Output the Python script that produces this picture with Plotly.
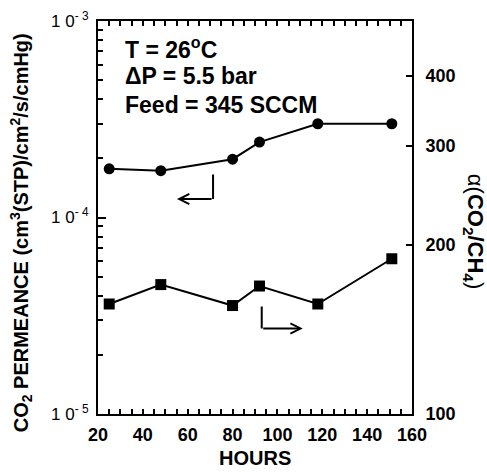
import math
import plotly.graph_objects as go

# Time on stream (hours)
hours_perm = [25, 48, 80, 92, 118, 151]
# CO2 permeance, cm3(STP)/cm2/s/cmHg
permeance = [1.77e-4, 1.73e-4, 1.98e-4, 2.42e-4, 3.0e-4, 3.0e-4]

hours_sel = [25, 48, 80, 92, 118, 151]
# CO2/CH4 separation factor
selectivity = [157, 170, 156, 169, 157, 189]

x_ticks = [20, 40, 60, 80, 100, 120, 140, 160]
y_ticks = [1e-5, 1e-4, 1e-3]
y_tick_text = ["1 0<sup>- 5</sup>", "1 0<sup>- 4</sup>", "1 0<sup>- 3</sup>"]
y2_ticks = [100, 200, 300, 400]

FONT = "Liberation Sans, Arial, Helvetica, sans-serif"
BLACK = "black"

y_minor = [m * 10.0 ** e for e in (-5, -4) for m in range(2, 10)]

fig = go.Figure()
fig.add_trace(go.Scatter(
    x=hours_perm, y=permeance, mode="lines+markers",
    line=dict(color=BLACK, width=2),
    marker=dict(symbol="circle", size=11, color=BLACK),
    showlegend=False,
))
fig.add_trace(go.Scatter(
    x=hours_sel, y=selectivity, mode="lines+markers", yaxis="y2",
    line=dict(color=BLACK, width=2),
    marker=dict(symbol="square", size=11, color=BLACK),
    showlegend=False,
))

fig.update_layout(
    width=487, height=474,
    margin=dict(l=98, r=75, t=21, b=60),
    paper_bgcolor="white", plot_bgcolor="white",
    font=dict(family=FONT, color=BLACK, size=18),
    xaxis=dict(
        range=[20, 160], tickvals=x_ticks, ticks="inside", ticklen=5,
        tickwidth=1.5, tickcolor=BLACK,
        minor=dict(dtick=5, ticks="inside", ticklen=5, tickwidth=1.5, tickcolor=BLACK),
        showline=True, linewidth=2, linecolor=BLACK, mirror="ticks",
        showgrid=False, zeroline=False, automargin=False,
        tickfont=dict(size=18, family=FONT, weight="bold"),
        ticklabelstandoff=3,
    ),
    yaxis=dict(
        type="log", range=[-5, -3], tickvals=y_ticks, ticktext=y_tick_text,
        ticks="inside", ticklen=8, tickwidth=1.5, tickcolor=BLACK,
        minor=dict(tickvals=y_minor, ticks="inside", ticklen=5, tickwidth=1.5, tickcolor=BLACK),
        showline=True, linewidth=2, linecolor=BLACK,
        showgrid=False, zeroline=False, automargin=False,
        tickfont=dict(size=17, family=FONT),
        ticklabelstandoff=4,
    ),
    yaxis2=dict(
        type="log", range=[2, math.log10(501)], overlaying="y", side="right",
        tickvals=y2_ticks, ticktext=[str(v) for v in y2_ticks],
        ticks="inside", ticklen=6, tickwidth=1.5, tickcolor=BLACK,
        showline=True, linewidth=2, linecolor=BLACK,
        showgrid=False, zeroline=False, automargin=False,
        tickfont=dict(size=18, family=FONT, weight="bold"),
        ticklabelstandoff=8,
    ),
)

# Axis titles
fig.add_annotation(
    xref="paper", yref="paper", x=0.5, y=-(458 - 414) / 393,
    text="<b>HOURS</b>", showarrow=False, font=dict(size=20),
    xanchor="center", yanchor="middle",
)
fig.add_annotation(
    xref="paper", yref="paper", x=-0.245, y=0.46, textangle=-90,
    text="<b>CO<sub>2</sub> PERMEANCE (cm<sup>3</sup>(STP)/cm<sup>2</sup>/s/cmHg)</b>",
    showarrow=False, font=dict(size=20), xanchor="center", yanchor="middle",
)
fig.add_annotation(
    xref="paper", yref="paper", x=(474 - 98) / 314, y=0.466, textangle=90,
    text="α(<b>CO<sub>2</sub>/CH<sub>4</sub></b>)",
    showarrow=False, font=dict(size=22), xanchor="center", yanchor="middle",
)

# Operating conditions
conditions = ["T = 26<sup>o</sup>C", "ΔP = 5.5 bar", "Feed = 345 SCCM"]
for i, line in enumerate(conditions):
    fig.add_annotation(
        xref="paper", yref="paper", x=(123 - 98) / 314, y=(414 - 48 - 28.5 * i) / 393,
        text=f"<b>{line}</b>", showarrow=False, font=dict(size=23),
        xanchor="left", yanchor="middle",
    )

# Arrow pointing to the left axis (permeance curve)
px_, py_top, py_bot, px_head = 71.3, -3.774, -3.906, 55.2
fig.add_annotation(x=px_, y=py_bot, ax=px_, ay=py_top, xref="x", yref="y",
                   axref="x", ayref="y", showarrow=True, arrowhead=0,
                   arrowwidth=2, arrowcolor=BLACK, text="")
fig.add_annotation(x=px_head, y=py_bot, ax=px_, ay=py_bot, xref="x", yref="y",
                   axref="x", ayref="y", showarrow=True, arrowhead=5, arrowsize=1,
                   arrowwidth=2, arrowcolor=BLACK, text="")

# Arrow pointing to the right axis (selectivity curve)
sx, sy_top, sy_bot, sx_head = 93.0, math.log10(156.4), math.log10(142.0), 111.3
fig.add_annotation(x=sx, y=sy_bot, ax=sx, ay=sy_top, xref="x", yref="y2",
                   axref="x", ayref="y2", showarrow=True, arrowhead=0,
                   arrowwidth=2, arrowcolor=BLACK, text="")
fig.add_annotation(x=sx_head, y=sy_bot, ax=sx, ay=sy_bot, xref="x", yref="y2",
                   axref="x", ayref="y2", showarrow=True, arrowhead=5, arrowsize=1,
                   arrowwidth=2, arrowcolor=BLACK, text="")

fig.write_html("out.html")
